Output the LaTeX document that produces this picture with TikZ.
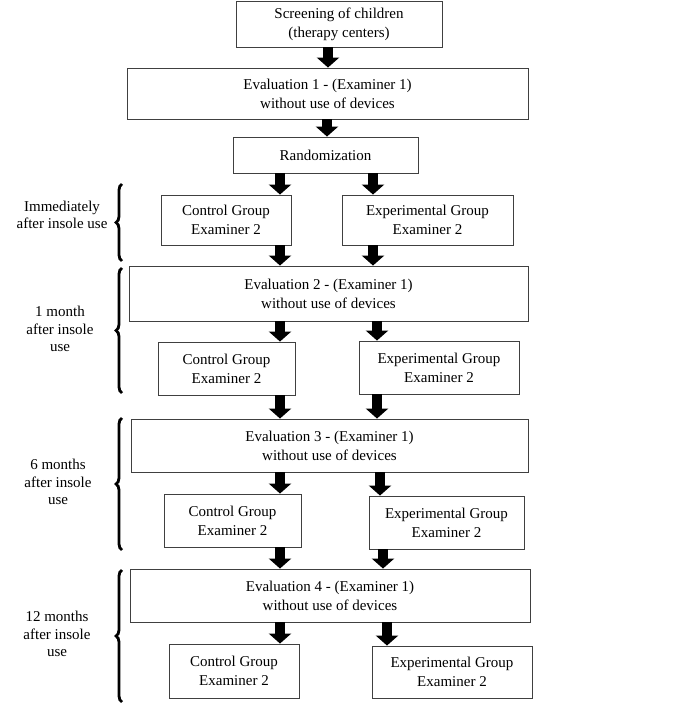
\documentclass[tikz,border=0pt]{standalone}
\usepackage{fontspec}
\setmainfont{Liberation Serif}
\usetikzlibrary{arrows.meta,decorations.pathreplacing}
\begin{document}
\begin{tikzpicture}[x=1pt,y=-1pt,
  box/.style={draw=black!75,line width=0.9pt,inner sep=0pt,align=center,font=\fontsize{15}{19}\selectfont},
  lbl/.style={inner sep=0pt,align=center,font=\fontsize{15}{17.5}\selectfont},
  blk/.style={line width=10pt,-{Triangle[width=22pt,length=10pt]}},
  brc/.style={decorate,decoration={brace,amplitude=6pt},line width=2.8pt}]
\useasboundingbox (0,0) rectangle (685,708);
% boxes
\node[box,minimum width=206,minimum height=46] (scr) at (339,24) {Screening of children\\(therapy centers)};
\node[box,minimum width=401,minimum height=51] (ev1) at (327.5,93.5) {Evaluation 1 - (Examiner 1)\\without use of devices};
\node[box,minimum width=185,minimum height=36] (rand) at (325.5,155) {Randomization};
\node[box,minimum width=130,minimum height=50] (c1) at (226,220) {Control Group\\Examiner 2};
\node[box,minimum width=171,minimum height=50] (e1) at (427.5,220) {Experimental Group\\Examiner 2};
\node[box,minimum width=399,minimum height=55] (ev2) at (328.5,293.5) {Evaluation 2 - (Examiner 1)\\without use of devices};
\node[box,minimum width=137,minimum height=53] (c2) at (226.5,368.5) {Control Group\\Examiner 2};
\node[box,minimum width=160,minimum height=53] (e2) at (439,367.5) {Experimental Group\\Examiner 2};
\node[box,minimum width=397,minimum height=53] (ev3) at (329.5,445.5) {Evaluation 3 - (Examiner 1)\\without use of devices};
\node[box,minimum width=137,minimum height=53] (c3) at (232.5,520.5) {Control Group\\Examiner 2};
\node[box,minimum width=155,minimum height=53] (e3) at (446.5,522.5) {Experimental Group\\Examiner 2};
\node[box,minimum width=400,minimum height=53] (ev4) at (330,595.5) {Evaluation 4 - (Examiner 1)\\without use of devices};
\node[box,minimum width=130,minimum height=54] (c4) at (234,671) {Control Group\\Examiner 2};
\node[box,minimum width=160,minimum height=52] (e4) at (452,672) {Experimental Group\\Examiner 2};
% arrow x positions
\coordinate (xa) at (328,0);
\coordinate (xb) at (327,0);
\coordinate (xl) at (280,0);
\coordinate (x1) at (373,0);
\coordinate (x2) at (377,0);
\coordinate (x3) at (380,0);
\coordinate (x4) at (383,0);
\coordinate (x5) at (387,0);
% arrows
\draw[blk] (scr.south -| xa) -- (ev1.north -| xa);
\draw[blk] (ev1.south -| xb) -- (rand.north -| xb);
\draw[blk] (rand.south -| xl) -- (c1.north -| xl);
\draw[blk] (rand.south -| x1) -- (e1.north -| x1);
\draw[blk] (c1.south -| xl) -- (ev2.north -| xl);
\draw[blk] (e1.south -| x1) -- (ev2.north -| x1);
\draw[blk] (ev2.south -| xl) -- (c2.north -| xl);
\draw[blk] (ev2.south -| x2) -- (e2.north -| x2);
\draw[blk] (c2.south -| xl) -- (ev3.north -| xl);
\draw[blk] (e2.south -| x2) -- (ev3.north -| x2);
\draw[blk] (ev3.south -| xl) -- (c3.north -| xl);
\draw[blk] (ev3.south -| x3) -- (e3.north -| x3);
\draw[blk] (c3.south -| xl) -- (ev4.north -| xl);
\draw[blk] (e3.south -| x4) -- (ev4.north -| x4);
\draw[blk] (ev4.south -| xl) -- (c4.north -| xl);
\draw[blk] (ev4.south -| x5) -- (e4.north -| x5);
% braces
\coordinate (b1t) at (122,184); \coordinate (b1b) at (122,261);
\coordinate (b2t) at (122,268); \coordinate (b2b) at (122,393);
\coordinate (b3t) at (122,418); \coordinate (b3b) at (122,550);
\coordinate (b4t) at (122,570); \coordinate (b4b) at (122,702);
\draw[brc] (b1b) -- (b1t);
\draw[brc] (b2b) -- (b2t);
\draw[brc] (b3b) -- (b3t);
\draw[brc] (b4b) -- (b4t);
% labels
\node[lbl] (l1) at (62,215) {Immediately\\after insole use};
\node[lbl] (l2) at (60,329) {1 month\\after insole\\use};
\node[lbl] (l3) at (58,482) {6 months\\after insole\\use};
\node[lbl] (l4) at (57,634) {12 months\\after insole\\use};
\end{tikzpicture}
\end{document}
